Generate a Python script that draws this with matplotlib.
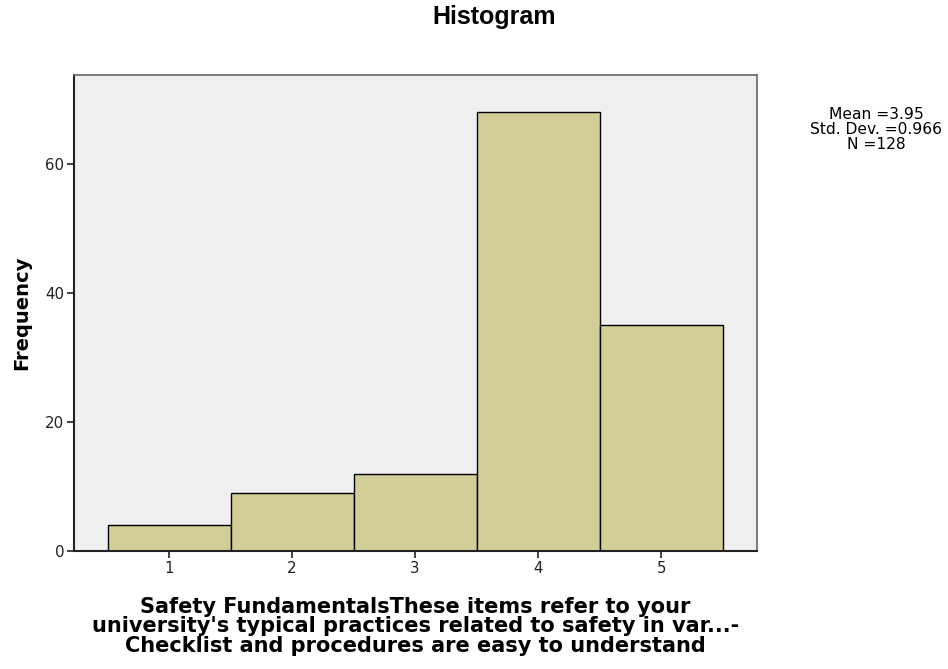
import matplotlib
matplotlib.use('Agg')
import matplotlib.pyplot as plt

plt.rcParams['font.family'] = ['DejaVu Sans']

# response categories and counts
categories = [1, 2, 3, 4, 5]
counts = [4, 9, 12, 68, 35]
y_ticks = [0, 20, 40, 60]
stats_lines = ['Mean =3.95', 'Std. Dev. =0.966', 'N =128']
x_label = ("Safety FundamentalsThese items refer to your\n"
           "university's typical practices related to safety in var...-\n"
           "Checklist and procedures are easy to understand")

fig = plt.figure(figsize=(9.48, 6.69), dpi=100)
ax = fig.add_axes([0.0781, 0.1764, 0.7205, 0.7115])
ax.set_facecolor('#efefef')

ax.bar(categories, counts, width=1.0, color='#d3ce98', edgecolor='black', linewidth=1.0)

ax.set_xlim(0.228, 5.78)
ax.set_ylim(0, 73.8)
ax.set_xticks(categories)
ax.set_yticks(y_ticks)
ax.tick_params(axis='both', direction='out', length=5, width=1.2, labelsize=10.8, colors='#222222', pad=2)

for side in ['left', 'bottom']:
    ax.spines[side].set_color('#222222')
    ax.spines[side].set_linewidth(1.5)
for side in ['top', 'right']:
    ax.spines[side].set_color('#666666')
    ax.spines[side].set_linewidth(1.2)

ax.set_ylabel('Frequency', fontsize=14, fontweight='bold', va='center')
ax.yaxis.set_label_coords(-0.076, 0.5)
ax.set_xlabel(x_label, fontsize=15, fontweight='bold', linespacing=0.95, va='top')
ax.xaxis.set_label_coords(0.5, -0.097)

fig.text(0.521, 1 - 24 / 669, 'Histogram', ha='center', va='baseline',
         fontsize=18, fontweight='bold', family='Liberation Sans')
fig.text(876 / 948, 1 - 107 / 669, '\n'.join(stats_lines), ha='center', va='top',
         fontsize=11.2, linespacing=1.0)

fig.savefig('out.png', dpi=100)
